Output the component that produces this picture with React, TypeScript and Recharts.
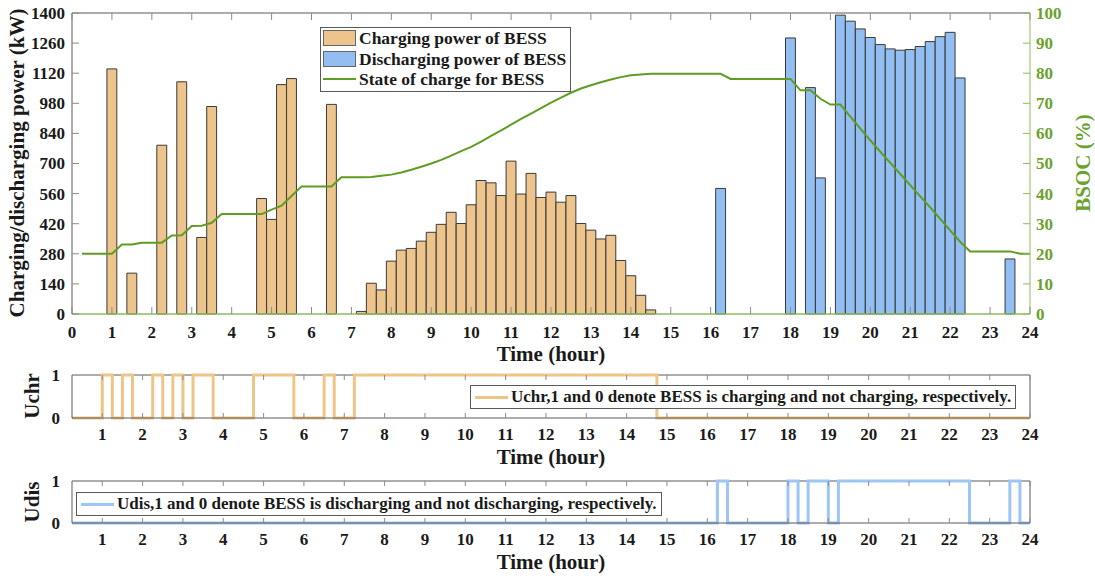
import React from "react";
import {
  Bar,
  ComposedChart,
  Legend,
  Line,
  LineChart,
  ReferenceLine,
  XAxis,
  YAxis,
} from "recharts";

// BESS schedule at 15-min resolution: t = 0.25, 0.5, ... 24 h (96 steps).
// Each row below is one hour (four quarter-hour values).

const chargePowerKw = [
  0, 0, 0, 1140,
  0, 190, 0, 0,
  785, 0, 1080, 0,
  356, 965, 0, 0,
  0, 0, 537, 440,
  1067, 1095, 0, 0,
  0, 975, 0, 0,
  12, 143, 112, 246,
  297, 305, 339, 380,
  417, 473, 421, 508,
  621, 610, 551, 711,
  558, 654, 542, 567,
  520, 551, 421, 390,
  349, 366, 249, 178,
  87, 19, 0, 0,
  0, 0, 0, 0,
  0, 0, 0, 0,
  0, 0, 0, 0,
  0, 0, 0, 0,
  0, 0, 0, 0,
  0, 0, 0, 0,
  0, 0, 0, 0,
  0, 0, 0, 0,
  0, 0, 0, 0,
];

const dischargePowerKw = [
  0, 0, 0, 0,
  0, 0, 0, 0,
  0, 0, 0, 0,
  0, 0, 0, 0,
  0, 0, 0, 0,
  0, 0, 0, 0,
  0, 0, 0, 0,
  0, 0, 0, 0,
  0, 0, 0, 0,
  0, 0, 0, 0,
  0, 0, 0, 0,
  0, 0, 0, 0,
  0, 0, 0, 0,
  0, 0, 0, 0,
  0, 0, 0, 0,
  0, 0, 0, 0,
  584, 0, 0, 0,
  0, 0, 0, 1284,
  0, 1053, 633, 0,
  1390, 1362, 1326, 1286,
  1253, 1233, 1227, 1230,
  1244, 1267, 1290, 1310,
  1098, 0, 0, 0,
  0, 256, 0, 0,
];

const socPercent = [
  20, 20, 20, 20,
  23.1, 23.1, 23.7, 23.7,
  23.7, 26.1, 26.2, 29.2,
  29.3, 30.3, 33.2, 33.2,
  33.2, 33.2, 33.2, 34.7,
  36.0, 39.2, 42.4, 42.4,
  42.4, 42.4, 45.4, 45.4,
  45.4, 45.5, 45.9, 46.3,
  47.0, 47.9, 48.9, 50.0,
  51.2, 52.6, 54.1, 55.5,
  57.3, 59.2, 61.0, 62.9,
  64.8, 66.6, 68.4, 70.2,
  71.9, 73.5, 74.9, 76.0,
  77.0, 77.9, 78.7, 79.3,
  79.6, 79.8, 79.8, 79.8,
  79.8, 79.8, 79.8, 79.8,
  79.8, 78.1, 78.1, 78.1,
  78.1, 78.1, 78.1, 78.1,
  74.3, 74.3, 71.5, 69.6,
  69.6, 65.6, 61.6, 57.7,
  53.9, 50.2, 46.5, 42.8,
  39.1, 35.4, 31.6, 27.8,
  24.0, 20.8, 20.8, 20.8,
  20.8, 20.8, 20.0, 20.0,
];

const uChr = [
  0, 0, 0, 1,
  0, 1, 0, 0,
  1, 0, 1, 0,
  1, 1, 0, 0,
  0, 0, 1, 1,
  1, 1, 0, 0,
  0, 1, 0, 0,
  1, 1, 1, 1,
  1, 1, 1, 1,
  1, 1, 1, 1,
  1, 1, 1, 1,
  1, 1, 1, 1,
  1, 1, 1, 1,
  1, 1, 1, 1,
  1, 1, 0, 0,
  0, 0, 0, 0,
  0, 0, 0, 0,
  0, 0, 0, 0,
  0, 0, 0, 0,
  0, 0, 0, 0,
  0, 0, 0, 0,
  0, 0, 0, 0,
  0, 0, 0, 0,
  0, 0, 0, 0,
];

const uDis = [
  0, 0, 0, 0,
  0, 0, 0, 0,
  0, 0, 0, 0,
  0, 0, 0, 0,
  0, 0, 0, 0,
  0, 0, 0, 0,
  0, 0, 0, 0,
  0, 0, 0, 0,
  0, 0, 0, 0,
  0, 0, 0, 0,
  0, 0, 0, 0,
  0, 0, 0, 0,
  0, 0, 0, 0,
  0, 0, 0, 0,
  0, 0, 0, 0,
  0, 0, 0, 0,
  1, 0, 0, 0,
  0, 0, 0, 1,
  0, 1, 1, 0,
  1, 1, 1, 1,
  1, 1, 1, 1,
  1, 1, 1, 1,
  1, 0, 0, 0,
  0, 1, 0, 0,
];

const hourTicks = [
  0, 1, 2, 3, 4, 5, 6, 7, 8, 9, 10, 11, 12,
  13, 14, 15, 16, 17, 18, 19, 20, 21, 22, 23, 24,
];
const powerTicks = [0, 140, 280, 420, 560, 700, 840, 980, 1120, 1260, 1400];
const socTicks = [0, 10, 20, 30, 40, 50, 60, 70, 80, 90, 100];
const switchTicks = [0, 1];

const quarterHours = chargePowerKw.map((_, i) => (i + 1) / 4);
const scheduleData = quarterHours.map((t, i) => ({
  t,
  charge: chargePowerKw[i],
  discharge: dischargePowerKw[i],
  soc: socPercent[i],
  uchr: uChr[i],
  udis: uDis[i],
}));

// --- look ---
const FONT = '"Liberation Serif", "Times New Roman", Times, serif';
const TEXT = "#1a1a1a";
const BOX = "#5a5a5a";
const TICK = "#8c8c8c";
const CHARGE_FILL = "#EDC48B";
const DISCHARGE_FILL = "#93BEF2";
const BAR_EDGE = "#3a3a3a";
const SOC_GREEN = "#5F9C22";
const SOC_AXIS = "#8DBD5C";
const SOC_TEXT = "#6AA22E";
const UCHR_COLOR = "#EEC587";
const UDIS_COLOR = "#9DC5F6";

const W = 1095;
const PLOT_LEFT = 72;
const PLOT_RIGHT = 1030;
const TITLE_X = 551;

const tickText = { fontFamily: FONT, fontWeight: 700, fontSize: 17, fill: TEXT };
const titleText = { fontFamily: FONT, fontWeight: 700, fontSize: 21, fill: TEXT };

// MATLAB-style ticks: labels outside, short marks pointing into the box
function timeTick(top: number, bottom: number, len: number, gap: number) {
  return (p: any) => (
    <g>
      <line x1={p.x} x2={p.x} y1={bottom} y2={bottom - len} stroke={TICK} />
      <line x1={p.x} x2={p.x} y1={top} y2={top + len} stroke={TICK} />
      <text x={p.x} y={bottom + gap} textAnchor="middle" {...tickText}>
        {p.payload.value}
      </text>
    </g>
  );
}

function leftTick(len: number, gap: number) {
  return (p: any) => (
    <g>
      {len > 0 && (
        <line x1={PLOT_LEFT} x2={PLOT_LEFT + len} y1={p.y} y2={p.y} stroke={TICK} />
      )}
      <text x={PLOT_LEFT - gap} y={p.y} dy="0.35em" textAnchor="end" {...tickText}>
        {p.payload.value}
      </text>
    </g>
  );
}

function socTick(p: any) {
  return (
    <g>
      <line x1={PLOT_RIGHT} x2={PLOT_RIGHT - 7} y1={p.y} y2={p.y} stroke={SOC_AXIS} />
      <text x={PLOT_RIGHT + 6} y={p.y} dy="0.35em" textAnchor="start" {...tickText} fill={SOC_TEXT}>
        {p.payload.value}
      </text>
    </g>
  );
}

function hTitle(text: string, y: number) {
  return () => (
    <text x={TITLE_X} y={y} textAnchor="middle" {...titleText}>
      {text}
    </text>
  );
}

function vTitle(text: string, x: number, y: number, fill = TEXT) {
  return () => (
    <text
      x={x}
      y={y}
      transform={`rotate(-90 ${x} ${y})`}
      textAnchor="middle"
      dy="0.35em"
      {...titleText}
      fill={fill}
    >
      {text}
    </text>
  );
}

function PowerLegend({ payload }: any) {
  return (
    <div
      style={{
        border: `1px solid ${BOX}`,
        background: "#fff",
        padding: "0 4px 1px 2px",
        fontFamily: FONT,
        fontWeight: 700,
        fontSize: 17.5,
        lineHeight: "20px",
        color: TEXT,
        whiteSpace: "nowrap",
      }}
    >
      {(payload || []).map((e: any) => (
        <div key={e.value} style={{ display: "flex", alignItems: "center", height: 20.5 }}>
          {e.type === "line" ? (
            <span style={{ width: 33, borderTop: `2px solid ${e.color}` }} />
          ) : (
            <span
              style={{
                width: 31,
                height: 14,
                background: e.color,
                border: "1px solid #666",
              }}
            />
          )}
          <span style={{ marginLeft: 3 }}>{e.value}</span>
        </div>
      ))}
    </div>
  );
}

function SwitchLegend({ payload }: any) {
  return (
    <div
      style={{
        border: `1px solid ${BOX}`,
        background: "#fff",
        padding: "0 4px 0 4px",
        fontFamily: FONT,
        fontWeight: 700,
        fontSize: 17,
        lineHeight: "22px",
        color: TEXT,
        whiteSpace: "nowrap",
        display: "flex",
        alignItems: "center",
      }}
    >
      {(payload || []).map((e: any) => (
        <React.Fragment key={e.value}>
          <span style={{ width: 33, borderTop: `3px solid ${e.color}` }} />
          <span style={{ marginLeft: 3 }}>{e.value}</span>
        </React.Fragment>
      ))}
    </div>
  );
}

export default function App() {
  return (
    <div
      style={{
        position: "absolute",
        left: 0,
        top: 0,
        width: W,
        height: 576,
        background: "#fff",
      }}
    >
      {/* power bars + state of charge */}
      <ComposedChart
        width={W}
        height={365}
        data={scheduleData}
        margin={{ top: 13, right: 0, bottom: 0, left: 0 }}
        barGap={0}
        barCategoryGap={0}
      >
        <XAxis
          xAxisId="t"
          dataKey="t"
          type="number"
          domain={[0, 24]}
          ticks={hourTicks}
          interval={0}
          height={51}
          axisLine={false}
          tickLine={false}
          tick={timeTick(13, 314, 7, 24)}
          label={hTitle("Time (hour)", 361)}
        />
        <YAxis
          yAxisId="p"
          domain={[0, 1400]}
          ticks={powerTicks}
          interval={0}
          width={PLOT_LEFT}
          axisLine={{ stroke: BOX }}
          tickLine={false}
          tick={leftTick(7, 7)}
          label={vTitle("Charging/discharging power (kW)", 17, 163)}
        />
        <YAxis
          yAxisId="soc"
          orientation="right"
          domain={[0, 100]}
          ticks={socTicks}
          interval={0}
          width={W - PLOT_RIGHT}
          axisLine={{ stroke: SOC_AXIS }}
          tickLine={false}
          tick={socTick}
          label={vTitle("BSOC (%)", 1083, 163, SOC_TEXT)}
        />
        <ReferenceLine xAxisId="t" yAxisId="p" y={1400} stroke={BOX} />
        <Bar
          xAxisId="t"
          yAxisId="p"
          dataKey="charge"
          name="Charging power of BESS"
          stackId="power"
          fill={CHARGE_FILL}
          stroke={BAR_EDGE}
          strokeWidth={1}
          barSize={9.9}
          isAnimationActive={false}
        />
        <Bar
          xAxisId="t"
          yAxisId="p"
          dataKey="discharge"
          name="Discharging power of BESS"
          stackId="power"
          fill={DISCHARGE_FILL}
          stroke={BAR_EDGE}
          strokeWidth={1}
          barSize={9.9}
          isAnimationActive={false}
        />
        <ReferenceLine xAxisId="t" yAxisId="p" y={0} stroke={SOC_AXIS} strokeWidth={1.5} />
        <Line
          xAxisId="t"
          yAxisId="soc"
          dataKey="soc"
          name="State of charge for BESS"
          type="linear"
          stroke={SOC_GREEN}
          strokeWidth={2}
          dot={false}
          isAnimationActive={false}
        />
        <Legend
          layout="vertical"
          align="center"
          verticalAlign="middle"
          content={PowerLegend}
          wrapperStyle={{ left: 320, top: 27, width: "auto" }}
        />
      </ComposedChart>

      {/* charging flag */}
      <LineChart
        width={W}
        height={104}
        data={scheduleData}
        margin={{ top: 10, right: W - PLOT_RIGHT, bottom: 0, left: 0 }}
      >
        <XAxis
          dataKey="t"
          type="number"
          domain={[0.25, 24]}
          ticks={hourTicks.slice(1)}
          interval={0}
          height={51}
          axisLine={{ stroke: BOX }}
          tickLine={false}
          tick={timeTick(10, 53, 5, 22)}
          label={hTitle("Time (hour)", 99)}
        />
        <YAxis
          domain={[0, 1]}
          ticks={switchTicks}
          interval={0}
          width={PLOT_LEFT}
          axisLine={{ stroke: BOX }}
          tickLine={false}
          tick={leftTick(0, 12)}
          label={vTitle("Uchr", 32, 31)}
        />
        <ReferenceLine y={1} stroke={BOX} />
        <ReferenceLine x={24} stroke={BOX} />
        <Line
          dataKey="uchr"
          name="Uchr,1 and 0 denote BESS is charging and not charging, respectively."
          type="stepAfter"
          stroke={UCHR_COLOR}
          strokeWidth={3}
          dot={false}
          isAnimationActive={false}
        />
        <Legend
          layout="vertical"
          align="center"
          verticalAlign="middle"
          content={SwitchLegend}
          wrapperStyle={{ left: 470, top: 20, width: "auto" }}
        />
      </LineChart>

      {/* discharging flag */}
      <LineChart
        width={W}
        height={107}
        data={scheduleData}
        margin={{ top: 12, right: W - PLOT_RIGHT, bottom: 0, left: 0 }}
      >
        <XAxis
          dataKey="t"
          type="number"
          domain={[0.25, 24]}
          ticks={hourTicks.slice(1)}
          interval={0}
          height={53}
          axisLine={{ stroke: BOX }}
          tickLine={false}
          tick={timeTick(12, 54, 5, 22)}
          label={hTitle("Time (hour)", 100)}
        />
        <YAxis
          domain={[0, 1]}
          ticks={switchTicks}
          interval={0}
          width={PLOT_LEFT}
          axisLine={{ stroke: BOX }}
          tickLine={false}
          tick={leftTick(0, 12)}
          label={vTitle("Udis", 32, 33)}
        />
        <ReferenceLine y={1} stroke={BOX} />
        <ReferenceLine x={24} stroke={BOX} />
        <Line
          dataKey="udis"
          name="Udis,1 and 0 denote BESS is discharging and not discharging, respectively."
          type="stepAfter"
          stroke={UDIS_COLOR}
          strokeWidth={3}
          dot={false}
          isAnimationActive={false}
        />
        <Legend
          layout="vertical"
          align="center"
          verticalAlign="middle"
          content={SwitchLegend}
          wrapperStyle={{ left: 76, top: 23, width: "auto" }}
        />
      </LineChart>
    </div>
  );
}
